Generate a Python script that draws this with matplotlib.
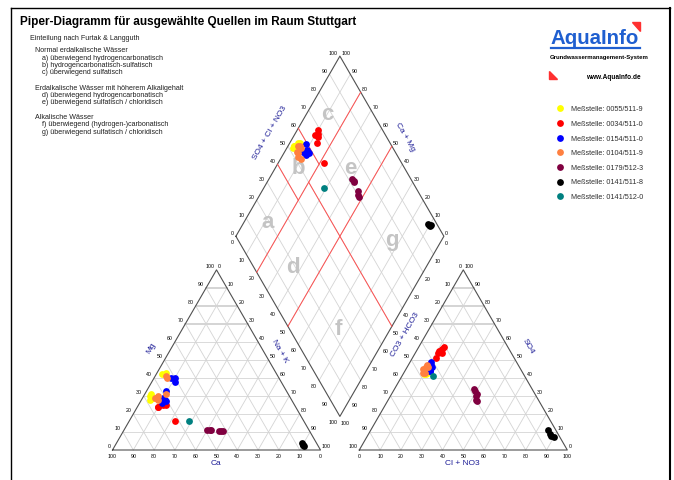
import numpy as np
import matplotlib.pyplot as plt
from matplotlib.lines import Line2D
from matplotlib.patches import Polygon

plt.rcParams['font.family'] = ['Liberation Sans', 'DejaVu Sans']

# Messstellen
labels = ['Meßstelle: 0055/511-9', 'Meßstelle: 0034/511-0', 'Meßstelle: 0154/511-0',
          'Meßstelle: 0104/511-9', 'Meßstelle: 0179/512-3', 'Meßstelle: 0141/511-8',
          'Meßstelle: 0141/512-0']
colors = ['#ffff00', '#ff0000', '#0000ff', '#ff8040', '#800040', '#000000', '#008080']

# Kationen in % (Ca = Rest)
mg = [[42, 43, 30, 28, 29, 31],
      [24, 25, 25, 26, 16, 24],
      [40, 40, 38, 33, 26, 27, 29, 28],
      [41, 40, 29, 29, 28, 30, 31],
      [11, 11, 11, 10.5, 10.5, 10.5],
      [4, 3, 2, 2.5],
      [16]]
nak = [[3, 4, 3, 4, 5, 3],
       [10, 12, 13, 11, 22, 10],
       [8, 10, 11, 9, 11, 12, 10, 11],
       [5, 6, 6, 7, 8, 7, 10],
       [40, 41.5, 42, 46, 47, 48],
       [89, 90, 91, 90.5],
       [29]]
# Anionen in % (CO3 + HCO3 = Rest)
so4 = [[42, 43, 42, 46, 47, 44],
       [55, 54, 54, 56, 51, 57],
       [49, 47, 46, 44, 45, 48, 44, 46],
       [46, 47, 44, 45, 43, 46, 43],
       [34, 33, 31, 30, 28, 27],
       [11, 8, 7, 9],
       [41]]
cl = [[10, 11, 11, 10, 10, 9],
      [11, 13, 11, 12, 11.5, 12],
      [10, 11, 12, 12, 11, 10, 12, 11],
      [9, 9, 9, 8, 9, 10, 10],
      [38, 39, 41, 41, 42, 43],
      [85, 88, 90, 87],
      [15]]

ticks = np.arange(0, 101, 10)

H = np.sqrt(3) / 2
GAP = 0.1865           # Abstand zwischen den Dreiecken
XR = 1 + GAP           # linke Ecke Anionendreieck
U = np.array([0.5, H])
V = np.array([0.5, -H])
LV = np.array([1 + GAP / 2, GAP * H]) - V   # linke Ecke der Raute


def kat(m, n):
    m, n = np.asarray(m) / 100., np.asarray(n) / 100.
    return n + m / 2, m * H


def an(s, c):
    s, c = np.asarray(s) / 100., np.asarray(c) / 100.
    return XR + c + s / 2, s * H


def raute(p, n):
    p, n = np.asarray(p) / 100., np.asarray(n) / 100.
    return LV[0] + p * U[0] + n * V[0], LV[1] + p * U[1] + n * V[1]


S = 208.  # Pixel pro Seitenlaenge
fig = plt.figure(figsize=(6.74, 4.81), dpi=100)
ax = fig.add_axes([0, 0, 1, 1])
ax.set_xlim(-112.5 / S, (674 - 112.5) / S)
ax.set_ylim(-(481 - 451) / S, 451 / S)
ax.axis('off')


def dat(xp, yp):
    return (xp - 112.5) / S, (451 - yp) / S


def fpos(xp, yp):
    return xp / 674, 1 - yp / 481


grid = dict(color='#d4d4d4', lw=0.6, zorder=1)
edge = dict(color='#505050', lw=0.8, zorder=2)
tk = dict(fontsize=3.8, textcoords='offset points', zorder=3)

# Gitter Dreiecke
for k in ticks[1:-1]:
    for f in (kat, an):
        a, b, c = f([k, k], [0, 100 - k]), f([0, 100 - k], [k, k]), f([0, 100 - k], [100 - k, 0])
        lw = 1.4 if k >= 70 else 0.6
        ax.plot(*a, **{**grid, 'lw': lw})
        ax.plot(*b, **grid)
        ax.plot(*c, **grid)
    ax.plot(*raute([k, k], [0, 100]), **grid)
    ax.plot(*raute([0, 100], [k, k]), **grid)

# Umrisse
ax.plot(*kat([0, 0, 100, 0], [0, 100, 0, 0]), **edge)
ax.plot(*an([0, 0, 100, 0], [0, 100, 0, 0]), **edge)
ax.plot(*raute([0, 100, 100, 0, 0], [0, 0, 100, 100, 0]), **edge)

# Felder nach Furtak & Langguth
red = dict(color='#ff5050', lw=0.7, zorder=2)
ax.plot(*raute([0, 100], [20, 20]), **red)
ax.plot(*raute([0, 100], [50, 50]), **red)
ax.plot(*raute([40, 40], [0, 20]), **red)
ax.plot(*raute([60, 60], [0, 20]), **red)
ax.plot(*raute([50, 50], [20, 100]), **red)

feld = ['a', 'b', 'c', 'd', 'e', 'f', 'g']
feld_p = [19, 49, 78, 19, 74, 24, 74]
feld_n = [11, 11, 10, 36, 36, 75, 76]
for t, p, n in zip(feld, feld_p, feld_n):
    ax.text(*raute(p, n), t, fontsize=16, fontweight='bold', color='#c4c4c4',
            ha='center', va='center', zorder=1)

# Beschriftung Achsen
for k in ticks:
    # Kationen
    ax.annotate(str(k), kat(k, 0), xytext=(-1.4, 3.2), ha='right', va='center', **tk)
    ax.annotate(str(k), kat(100 - k, k), xytext=(0.8, 2.9), ha='left', va='center', **tk)
    ax.annotate(str(100 - k), kat(0, k), xytext=(0, -2.2), ha='center', va='top', **tk)
    # Anionen
    ax.annotate(str(100 - k), an(k, 0), xytext=(-1.4, 3.2), ha='right', va='center', **tk)
    ax.annotate(str(k), an(k, 100 - k), xytext=(0.8, 2.9), ha='left', va='center', **tk)
    ax.annotate(str(k), an(0, k), xytext=(0, -2.2), ha='center', va='top', **tk)
    # Raute
    ax.annotate(str(k), raute(k, 0), xytext=(-1.4, 2.7), ha='right', va='center', **tk)
    ax.annotate(str(100 - k), raute(100, k), xytext=(0.9, 2.6), ha='left', va='center', **tk)
    ax.annotate(str(k), raute(0, k), xytext=(-1.4, -3.6), ha='right', va='center', **tk)
    ax.annotate(str(100 - k), raute(k, 100), xytext=(0.8, -4.3), ha='left', va='center', **tk)

ax_lab = dict(fontsize=6, color='#1c1c96', ha='center', va='center')
ax.text(*dat(151.7, 347.7), 'Mg', rotation=60, **ax_lab)
ax.text(*dat(280, 351.7), 'Na + K', rotation=-60, **ax_lab)
ax.text(*dat(216, 463.3), 'Ca', **ax_lab)
ax.text(*dat(405, 335), 'CO3 + HCO3', rotation=60, **ax_lab)
ax.text(*dat(528.3, 346.7), 'SO4', rotation=-60, **ax_lab)
ax.text(*dat(462.7, 463.3), 'Cl + NO3', **ax_lab)
ax.text(*dat(270, 133.3), 'SO4 + Cl + NO3', rotation=60, **ax_lab)
ax.text(*dat(405, 136.7), 'Ca + Mg', rotation=-60, **ax_lab)

# Messwerte
for i in range(len(labels)):
    p = [a + b for a, b in zip(so4[i], cl[i])]
    ax.scatter(*kat(mg[i], nak[i]), s=24, color=colors[i], lw=0, zorder=4, label=labels[i])
    ax.scatter(*an(so4[i], cl[i]), s=24, color=colors[i], lw=0, zorder=4)
    ax.scatter(*raute(p, nak[i]), s=24, color=colors[i], lw=0, zorder=4)

leg = ax.legend(loc='upper left', bbox_to_anchor=fpos(556.8, 106.2), bbox_transform=fig.transFigure,
                frameon=False, fontsize=5.2, scatterpoints=1, handlelength=1.0, handletextpad=0.95,
                labelspacing=1.05, borderpad=0, borderaxespad=0)
for t in leg.get_texts():
    t.set_color('#303030')

# Titel und Erlaeuterung
fig.text(*fpos(20, 22), 'Piper-Diagramm für ausgewählte Quellen im Raum Stuttgart',
         fontsize=8.5, fontweight='bold', va='center')
info = [(30, 39, 'Einteilung nach Furtak & Langguth'),
        (35, 51, 'Normal erdalkalische Wässer'),
        (42, 58.7, 'a) überwiegend hydrogencarbonatisch'),
        (42, 65.7, 'b) hydrogencarbonatisch-sulfatisch'),
        (42, 73, 'c) überwiegend sulfatisch'),
        (35, 88.7, 'Erdalkalische Wässer mit höherem Alkaligehalt'),
        (42, 95.7, 'd) überwiegend hydrogencarbonatisch'),
        (42, 102.3, 'e) überwiegend sulfatisch / chloridisch'),
        (35, 117.3, 'Alkalische Wässer'),
        (42, 125, 'f) überwiegend (hydrogen-)carbonatisch'),
        (42, 132, 'g) überwiegend sulfatisch / chloridisch')]
for x, y, t in info:
    fig.text(*fpos(x, y), t, fontsize=5.1, va='center', color='#202020')

# Logo
fig.text(*fpos(550, 44), 'AquaInfo', fontsize=14.7, fontweight='bold', color='#1f5fd0', va='baseline')
fig.add_artist(Line2D([550.7 / 674, 640 / 674], [1 - 49 / 481] * 2, color='#1f5fd0', lw=1.6))
fig.text(*fpos(550, 57.3), 'Grundwassermanagement-System', fontsize=4.3, fontweight='bold', va='center')
fig.text(*fpos(641, 77.3), 'www.AquaInfo.de', fontsize=4.7, fontweight='bold', va='center', ha='right')
fig.add_artist(Polygon([fpos(631.7, 23.3), fpos(640, 23.3), fpos(640, 31.7)],
                       closed=True, color='#ff3030', transform=fig.transFigure))
fig.add_artist(Polygon([fpos(549.3, 71.7), fpos(549.3, 80), fpos(557.3, 80)],
                       closed=True, color='#ff3030', transform=fig.transFigure))

# Rahmen
fig.add_artist(Line2D([11 / 674] * 2, [0, 1 - 9 / 481], color='k', lw=1))
fig.add_artist(Line2D([11 / 674, 670 / 674], [1 - 9 / 481] * 2, color='k', lw=1))
fig.add_artist(Line2D([670 / 674] * 2, [0, 1 - 9 / 481], color='k', lw=1.5))

fig.savefig('out.png', dpi=100)
